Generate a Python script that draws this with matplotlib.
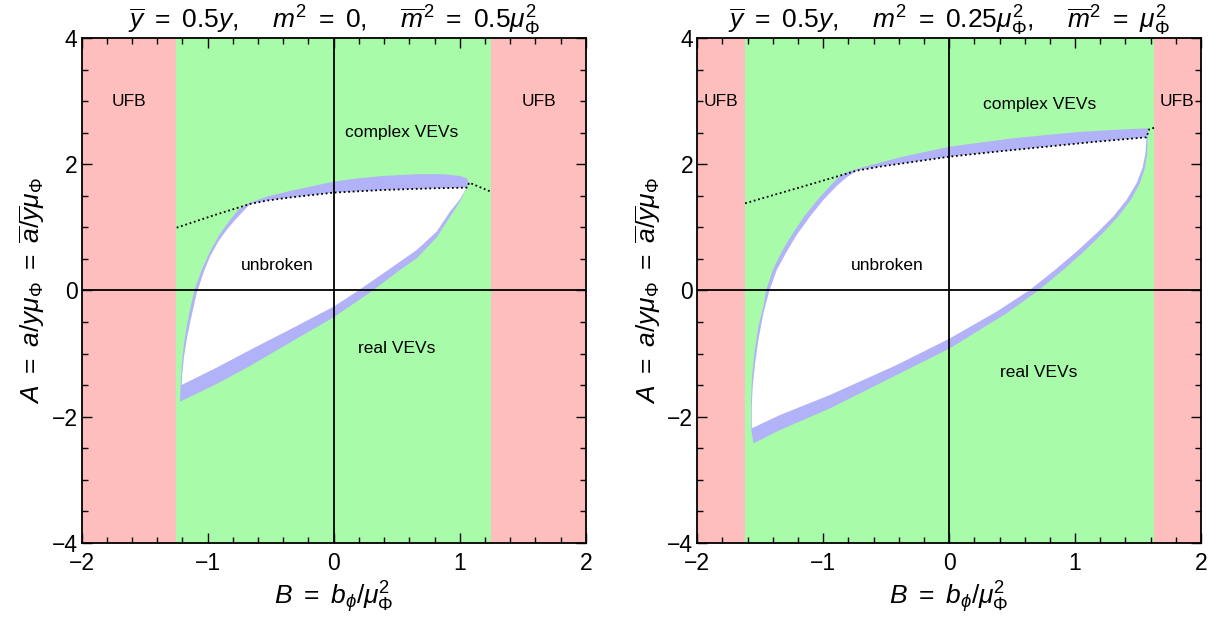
import matplotlib.pyplot as plt
from matplotlib.ticker import MultipleLocator

plt.rcParams['font.family'] = ['Liberation Sans', 'DejaVu Sans']
plt.rcParams['mathtext.fontset'] = 'custom'
plt.rcParams['mathtext.rm'] = 'Liberation Sans'
plt.rcParams['mathtext.it'] = 'Liberation Sans:italic'
plt.rcParams['mathtext.bf'] = 'Liberation Sans:bold'
plt.rcParams['axes.unicode_minus'] = True

RED = '#ffbebe'
GREEN = '#a8fba8'
BLUE = '#b2b2f8'

# ---- left panel: ybar = 0.5 y, m^2 = 0, mbar^2 = 0.5 mu^2
L_ufb = 1.25
# outer edge of the blue band (bottom-left -> kink, kink -> tip, tip -> bottom-left)
L_outer_left_x = [-1.2198, -1.2146, -1.2066, -1.1907, -1.167, -1.135, -1.1008, -1.0479, -0.9817, -0.9079, -0.823, -0.7569, -0.704, -0.664]
L_outer_left_y = [-1.763, -1.499, -1.208, -0.891, -0.574, -0.256, 0.034, 0.325, 0.616, 0.880, 1.118, 1.277, 1.351, 1.393]
L_outer_top_x = [-0.664, -0.532, -0.334, 0.0, 0.1955, 0.394, 0.659, 0.870, 1.002, 1.055, 1.076]
L_outer_top_y = [1.393, 1.488, 1.583, 1.726, 1.779, 1.816, 1.843, 1.843, 1.816, 1.779, 1.71]
L_outer_low_x = [1.076, 1.055, 1.002, 0.923, 0.817, 0.659, 0.526, 0.309, 0.0, -0.334, -0.664, -0.929, -1.2198]
L_outer_low_y = [1.71, 1.625, 1.41, 1.17, 0.84, 0.510, 0.325, -0.003, -0.425, -0.811, -1.197, -1.483, -1.763]
# white "unbroken" region
L_inner_left_x = [-1.2066, -1.2013, -1.188, -1.167, -1.135, -1.0875, -1.0347, -0.9817, -0.9156, -0.8495, -0.770, -0.664]
L_inner_left_y = [-1.499, -1.313, -1.050, -0.785, -0.468, -0.045, 0.273, 0.536, 0.774, 0.960, 1.145, 1.372]
L_inner_top_x = [-0.664, -0.532, -0.334, 0.0, 0.394, 0.791, 1.055]
L_inner_top_y = [1.372, 1.425, 1.478, 1.552, 1.594, 1.620, 1.631]
L_inner_low_x = [1.055, 1.002, 0.923, 0.817, 0.659, 0.394, 0.1823, 0.0, -0.334, -0.664, -0.929, -1.2066]
L_inner_low_y = [1.631, 1.446, 1.250, 0.933, 0.642, 0.272, -0.0185, -0.256, -0.605, -0.944, -1.224, -1.499]
# dotted boundary
L_dot_x = [-1.246, -0.955, -0.664, -0.532, -0.334, 0.0, 0.394, 0.791, 1.055, 1.076, 1.246]
L_dot_y = [0.996, 1.19, 1.372, 1.425, 1.478, 1.552, 1.594, 1.620, 1.631, 1.71, 1.567]

# ---- right panel: ybar = 0.5 y, m^2 = 0.25 mu^2, mbar^2 = mu^2
R_ufb = 1.625
R_outer_left_x = [-1.554, -1.573, -1.573, -1.565, -1.5466, -1.515, -1.475, -1.454, -1.401, -1.3296, -1.25, -1.152, -1.0466, -0.946, -0.8667, -0.8005, -0.734]
R_outer_left_y = [-2.424, -2.186, -1.737, -1.367, -0.997, -0.574, -0.256, -0.003, 0.325, 0.616, 0.880, 1.171, 1.435, 1.657, 1.816, 1.885, 1.927]
R_outer_top_x = [-0.734, -0.549, -0.364, -0.179, 0.0063, 0.2444, 0.509, 0.7736, 1.038, 1.3026, 1.580]
R_outer_top_y = [1.927, 2.028, 2.123, 2.202, 2.281, 2.344, 2.413, 2.466, 2.514, 2.546, 2.572]
R_outer_low_x = [1.580, 1.575, 1.5725, 1.554, 1.514, 1.443, 1.342, 1.218, 1.070, 0.906, 0.707, 0.456, 0.0063, -0.417, -0.946, -1.343, -1.554]
R_outer_low_y = [2.572, 2.429, 2.175, 1.938, 1.700, 1.435, 1.171, 0.907, 0.616, 0.325, -0.003, -0.362, -0.917, -1.340, -1.869, -2.213, -2.424]
R_inner_left_x = [-1.5677, -1.5677, -1.560, -1.541, -1.515, -1.475, -1.4275, -1.369, -1.290, -1.2106, -1.105, -0.999, -0.893, -0.8137, -0.7344]
R_inner_left_y = [-2.186, -1.842, -1.525, -1.155, -0.785, -0.362, -0.003, 0.325, 0.616, 0.880, 1.171, 1.435, 1.657, 1.795, 1.90]
R_inner_top_x = [-0.7344, -0.549, -0.364, -0.179, 0.0063, 0.3767, 0.7736, 1.170, 1.567]
R_inner_top_y = [1.90, 1.964, 2.017, 2.070, 2.123, 2.202, 2.281, 2.360, 2.429]
R_inner_low_x = [1.567, 1.559, 1.535, 1.488, 1.4085, 1.3026, 1.170, 1.0116, 0.8397, 0.641, 0.3767, 0.0063, -0.417, -0.946, -1.343, -1.5677]
R_inner_low_y = [2.429, 2.175, 1.938, 1.700, 1.435, 1.171, 0.907, 0.616, 0.325, 0.008, -0.336, -0.759, -1.182, -1.657, -1.975, -2.186]
R_dot_x = [-1.6206, -1.2106, -0.7344, -0.549, -0.364, -0.179, 0.0063, 0.3767, 0.7736, 1.170, 1.567, 1.588, 1.633]
R_dot_y = [1.3825, 1.620, 1.90, 1.964, 2.017, 2.070, 2.123, 2.202, 2.281, 2.360, 2.429, 2.556, 2.583]

L_title = r'$\overline{y}\ =\ 0.5y,\quad\ m^2\ =\ 0,\quad\ \overline{m}^2\ =\ 0.5\mu_\Phi^2$'
R_title = r'$\overline{y}\ =\ 0.5y,\quad\ m^2\ =\ 0.25\mu_\Phi^2,\quad\ \overline{m}^2\ =\ \mu_\Phi^2$'
x_label = r'$B\ =\ b_\phi/\mu_\Phi^2$'
y_label = r'$A\ =\ a/y\mu_\Phi\ =\ \overline{a}/\overline{y}\mu_\Phi$'

xticks = [-2, -1, 0, 1, 2]
yticks = [-4, -2, 0, 2, 4]


def draw_panel(ax, ufb, outer, inner, dots, title):
	ax.set_xlim(-2, 2)
	ax.set_ylim(-4, 4)
	ax.axvspan(-2, -ufb, color=RED, lw=0, zorder=0)
	ax.axvspan(ufb, 2, color=RED, lw=0, zorder=0)
	ax.axvspan(-ufb, ufb, color=GREEN, lw=0, zorder=0)

	ox = outer[0] + outer[2][1:] + outer[4][1:]
	oy = outer[1] + outer[3][1:] + outer[5][1:]
	ax.fill(ox, oy, color=BLUE, lw=0, zorder=1)
	ix = inner[0] + inner[2][1:] + inner[4][1:]
	iy = inner[1] + inner[3][1:] + inner[5][1:]
	ax.fill(ix, iy, color='white', lw=0, zorder=2)

	ax.axhline(0, color='black', lw=1.3, zorder=3)
	ax.axvline(0, color='black', lw=1.3, zorder=3)
	ax.plot(dots[0], dots[1], color='black', ls=(0, (1, 1.5)), lw=1.3, zorder=4)

	ax.set_xticks(xticks)
	ax.set_yticks(yticks)
	ax.xaxis.set_minor_locator(MultipleLocator(0.2))
	ax.yaxis.set_minor_locator(MultipleLocator(0.5))
	ax.tick_params(which='both', direction='in', top=True, right=True, labelsize=16.5, width=1.0)
	ax.tick_params(axis='x', which='both', pad=7)
	ax.tick_params(axis='y', which='both', pad=3)
	ax.tick_params(which='major', length=7)
	ax.tick_params(which='minor', length=4)
	for s in ax.spines.values():
		s.set_linewidth(1.3)
		s.set_zorder(5)
	ax.set_title(title, fontsize=19, pad=5)
	ax.set_xlabel(x_label, fontsize=19, labelpad=3)
	ax.set_ylabel(y_label, fontsize=19, labelpad=3)


fig = plt.figure(figsize=(12.21, 6.22), dpi=100)
ax1 = fig.add_axes([0.0669, 0.1275, 0.4128, 0.811])
ax2 = fig.add_axes([0.5711, 0.1275, 0.4125, 0.811])

draw_panel(ax1, L_ufb,
		   [L_outer_left_x, L_outer_left_y, L_outer_top_x, L_outer_top_y, L_outer_low_x, L_outer_low_y],
		   [L_inner_left_x, L_inner_left_y, L_inner_top_x, L_inner_top_y, L_inner_low_x, L_inner_low_y],
		   [L_dot_x, L_dot_y], L_title)
draw_panel(ax2, R_ufb,
		   [R_outer_left_x, R_outer_left_y, R_outer_top_x, R_outer_top_y, R_outer_low_x, R_outer_low_y],
		   [R_inner_left_x, R_inner_left_y, R_inner_top_x, R_inner_top_y, R_inner_low_x, R_inner_low_y],
		   [R_dot_x, R_dot_y], R_title)

fs = 12.5
ax1.text(-1.625, 3.0, 'UFB', fontsize=fs, ha='center', va='center', zorder=6)
ax1.text(1.625, 3.0, 'UFB', fontsize=fs, ha='center', va='center', zorder=6)
ax1.text(0.54, 2.5, 'complex VEVs', fontsize=fs, ha='center', va='center', zorder=6)
ax1.text(-0.45, 0.39, 'unbroken', fontsize=fs, ha='center', va='center', zorder=6)
ax1.text(0.5, -0.92, 'real VEVs', fontsize=fs, ha='center', va='center', zorder=6)

ax2.text(-1.81, 3.0, 'UFB', fontsize=fs, ha='center', va='center', zorder=6)
ax2.text(1.81, 3.0, 'UFB', fontsize=fs, ha='center', va='center', zorder=6)
ax2.text(0.72, 2.95, 'complex VEVs', fontsize=fs, ha='center', va='center', zorder=6)
ax2.text(-0.49, 0.39, 'unbroken', fontsize=fs, ha='center', va='center', zorder=6)
ax2.text(0.71, -1.30, 'real VEVs', fontsize=fs, ha='center', va='center', zorder=6)

fig.savefig('out.png', dpi=100)
